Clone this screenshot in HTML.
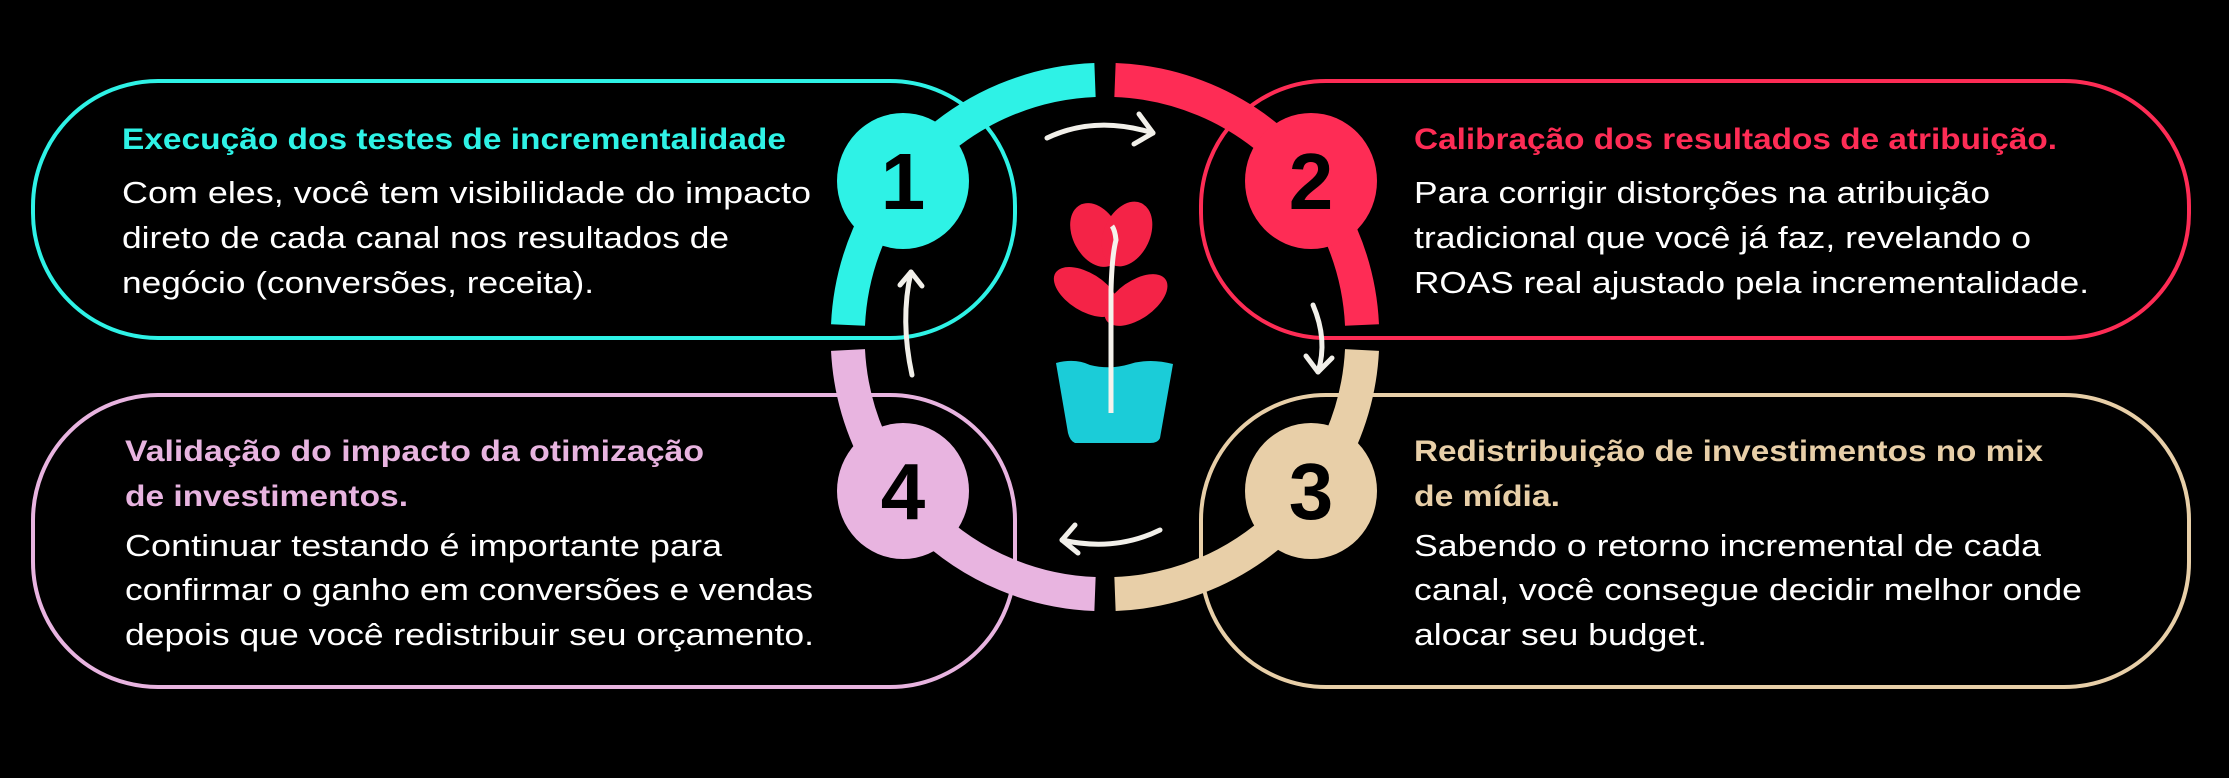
<!DOCTYPE html>
<html><head><meta charset="utf-8"><style>
html,body{margin:0;padding:0;background:#000;}
svg{display:block}
text{font-family:"Liberation Sans",sans-serif;}
.h{font-weight:bold;font-size:30px}
.b{font-size:31px;fill:#fff}
.n{font-weight:bold;font-size:80px;fill:#000}
</style></head><body>
<svg width="2229" height="778" viewBox="0 0 2229 778" xmlns="http://www.w3.org/2000/svg">
<rect width="2229" height="778" fill="#000"/>
<rect x="33" y="81" width="982" height="257" rx="125" fill="none" stroke="#2EF2E6" stroke-width="4"/>
<rect x="1201" y="81" width="988" height="257" rx="125" fill="none" stroke="#FE2C55" stroke-width="4"/>
<rect x="33" y="395" width="982" height="292" rx="125" fill="none" stroke="#E8B4E0" stroke-width="4"/>
<rect x="1201" y="395" width="988" height="292" rx="125" fill="none" stroke="#E8CFA8" stroke-width="4"/>
<g fill="none" stroke-width="34">
<path d="M1095,80 A257,257 0 0 0 848,325" stroke="#2EF2E6"/>
<path d="M1115,80 A257,257 0 0 1 1362,325" stroke="#FE2C55"/>
<path d="M1362,350 A257,257 0 0 1 1115,594" stroke="#E8CFA8"/>
<path d="M1095,594 A257,257 0 0 1 848,350" stroke="#E8B4E0"/>
</g>
<ellipse cx="903" cy="181" rx="66" ry="68" fill="#2EF2E6"/>
<ellipse cx="1311" cy="181" rx="66" ry="68" fill="#FE2C55"/>
<ellipse cx="1311" cy="491" rx="66" ry="68" fill="#E8CFA8"/>
<ellipse cx="903" cy="491" rx="66" ry="68" fill="#E8B4E0"/>
<text class="n" x="903" y="209" text-anchor="middle">1</text>
<text class="n" x="1311" y="209" text-anchor="middle">2</text>
<text class="n" x="1311" y="519" text-anchor="middle">3</text>
<text class="n" x="903" y="519" text-anchor="middle">4</text>
<g fill="none" stroke="#F2F0EA" stroke-width="5" stroke-linecap="round" stroke-linejoin="round">
<path d="M1047,138 Q1095,115 1153,133"/><path d="M1139,114 L1153,133 L1134,144"/>
<path d="M1313,305 Q1328,340 1318,372"/><path d="M1306,356 L1318,372 L1332,358"/>
<path d="M1160,530 Q1115,552 1062,540"/><path d="M1075,525 L1062,540 L1078,553"/>
<path d="M912,375 Q900,320 911,272"/><path d="M900,285 L911,272 L922,286"/>
</g>
<g fill="#F42347">
<ellipse cx="1096" cy="235" rx="34" ry="23" transform="rotate(62 1096 235)"/>
<ellipse cx="1127" cy="234" rx="34" ry="23" transform="rotate(-65 1127 234)"/>
<ellipse cx="1086" cy="292" rx="36" ry="19" transform="rotate(32 1086 292)"/>
<ellipse cx="1136" cy="300" rx="36" ry="19" transform="rotate(-35 1136 300)"/>
</g>
<path d="M1056,363 Q1075,358 1090,365 Q1110,370 1130,364 Q1150,358 1173,364 L1160,438 Q1158,443 1150,443 L1075,443 Q1070,441 1068,433 Z" fill="#1BCCD8"/>
<path d="M1111,413 L1111,290 Q1112,255 1116,240 Q1115,230 1112,226" fill="none" stroke="#F5F2EC" stroke-width="5"/>
<text class="h" fill="#2EF2E6" x="122" y="149" textLength="664" lengthAdjust="spacingAndGlyphs">Execução dos testes de incrementalidade</text>
<text class="b" x="122" y="203" textLength="689" lengthAdjust="spacingAndGlyphs">Com eles, você tem visibilidade do impacto</text>
<text class="b" x="122" y="248" textLength="607" lengthAdjust="spacingAndGlyphs">direto de cada canal nos resultados de</text>
<text class="b" x="122" y="293" textLength="472" lengthAdjust="spacingAndGlyphs">negócio (conversões, receita).</text>
<text class="h" fill="#FE2C55" x="1414" y="149" textLength="643" lengthAdjust="spacingAndGlyphs">Calibração dos resultados de atribuição.</text>
<text class="b" x="1414" y="203" textLength="576" lengthAdjust="spacingAndGlyphs">Para corrigir distorções na atribuição</text>
<text class="b" x="1414" y="248" textLength="617" lengthAdjust="spacingAndGlyphs">tradicional que você já faz, revelando o</text>
<text class="b" x="1414" y="293" textLength="675" lengthAdjust="spacingAndGlyphs">ROAS real ajustado pela incrementalidade.</text>
<text class="h" fill="#E8B4E0" x="125" y="461" textLength="579" lengthAdjust="spacingAndGlyphs">Validação do impacto da otimização</text>
<text class="h" fill="#E8B4E0" x="125" y="506" textLength="283" lengthAdjust="spacingAndGlyphs">de investimentos.</text>
<text class="b" x="125" y="556" textLength="597" lengthAdjust="spacingAndGlyphs">Continuar testando é importante para</text>
<text class="b" x="125" y="600" textLength="688" lengthAdjust="spacingAndGlyphs">confirmar o ganho em conversões e vendas</text>
<text class="b" x="125" y="645" textLength="689" lengthAdjust="spacingAndGlyphs">depois que você redistribuir seu orçamento.</text>
<text class="h" fill="#E8CFA8" x="1414" y="461" textLength="629" lengthAdjust="spacingAndGlyphs">Redistribuição de investimentos no mix</text>
<text class="h" fill="#E8CFA8" x="1414" y="506" textLength="146" lengthAdjust="spacingAndGlyphs">de mídia.</text>
<text class="b" x="1414" y="556" textLength="627" lengthAdjust="spacingAndGlyphs">Sabendo o retorno incremental de cada</text>
<text class="b" x="1414" y="600" textLength="668" lengthAdjust="spacingAndGlyphs">canal, você consegue decidir melhor onde</text>
<text class="b" x="1414" y="645" textLength="293" lengthAdjust="spacingAndGlyphs">alocar seu budget.</text>
</svg>
</body></html>
